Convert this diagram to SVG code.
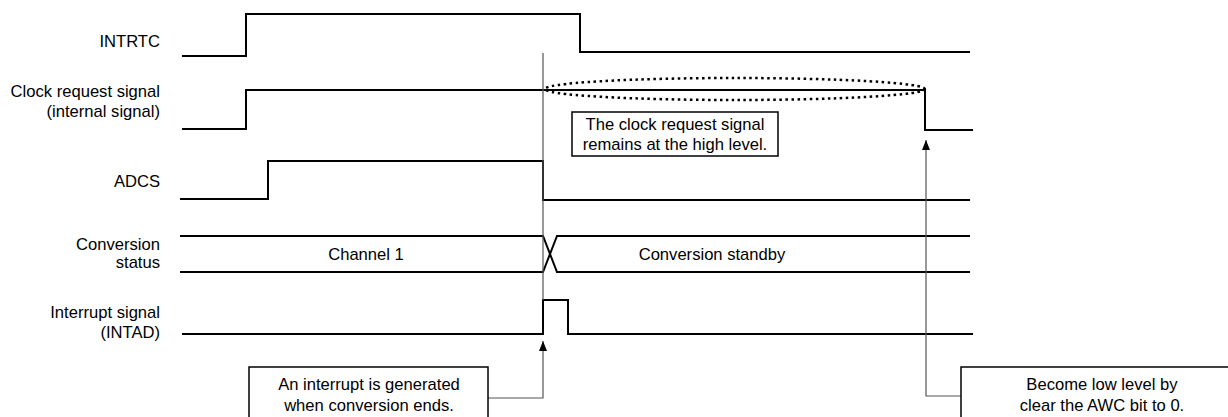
<svg xmlns="http://www.w3.org/2000/svg" width="1228" height="417" viewBox="0 0 1228 417">
<style>
.sig{fill:none;stroke:#000;stroke-width:2}
.thin{fill:none;stroke:#555;stroke-width:1.2}
.lbl{font-family:"Liberation Sans",Arial,sans-serif;font-size:16.6px;fill:#000}
.r{text-anchor:end}
.c{text-anchor:middle}
.box{fill:#fff;stroke:#000;stroke-width:1.5}
</style>
<defs>
<marker id="ah" viewBox="0 0 10 8" refX="10" refY="4" markerWidth="10" markerHeight="8" markerUnits="userSpaceOnUse" orient="auto">
<path d="M0,0 L10,4 L0,8 Z" fill="#000"/>
</marker>
</defs>
<rect width="1228" height="417" fill="#fff"/>
<g id="labels">
<text class="lbl r" x="160" y="47">INTRTC</text>
<text class="lbl r" x="160" y="97">Clock request signal</text>
<text class="lbl r" x="160" y="117">(internal signal)</text>
<text class="lbl r" x="160" y="187">ADCS</text>
<text class="lbl r" x="160" y="250">Conversion</text>
<text class="lbl r" x="160" y="268">status</text>
<text class="lbl r" x="160" y="318">Interrupt signal</text>
<text class="lbl r" x="160" y="338">(INTAD)</text>
</g>
<g id="intrtc">
<path class="sig" d="M182,56 H246 V14 H580 V52 H970"/>
</g>
<g id="clock-request">
<path class="sig" d="M182,129 H246 V90 H925 V130 H973"/>
</g>
<g id="adcs">
<path class="sig" d="M180,199 H268 V161 H543 V200 H970"/>
</g>
<g id="conversion-status">
<path class="sig" d="M180,236 H543 L557,272 H970"/>
<path class="sig" d="M180,272 H543 L557,236 H970"/>
<text class="lbl c" x="366" y="260">Channel 1</text>
<text class="lbl c" x="712" y="260">Conversion standby</text>
</g>
<g id="intad">
<path class="sig" d="M182,334 H543 V300 H568 V334 H973"/>
</g>
<g id="connectors">
<line class="thin" x1="543" y1="53" x2="543" y2="300"/>
<ellipse cx="735" cy="89" rx="190" ry="11" fill="none" stroke="#000" stroke-width="2.5" stroke-dasharray="2.5,3.5"/>
<path class="thin" d="M488,398 H543 V341" marker-end="url(#ah)"/>
<path class="thin" d="M961,396 H926 V140" marker-end="url(#ah)"/>
</g>
<g id="note-clock">
<rect class="box" x="572" y="112" width="206" height="44"/>
<text class="lbl c" x="675" y="130">The clock request signal</text>
<text class="lbl c" x="675" y="150">remains at the high level.</text>
</g>
<g id="note-interrupt">
<rect class="box" x="249" y="367" width="239" height="60"/>
<text class="lbl c" x="369" y="390">An interrupt is generated</text>
<text class="lbl c" x="369" y="411">when conversion ends.</text>
</g>
<g id="note-awc">
<rect class="box" x="961" y="367" width="280" height="60"/>
<text class="lbl c" x="1102" y="390">Become low level by</text>
<text class="lbl c" x="1102" y="411">clear the AWC bit to 0.</text>
</g>
</svg>
